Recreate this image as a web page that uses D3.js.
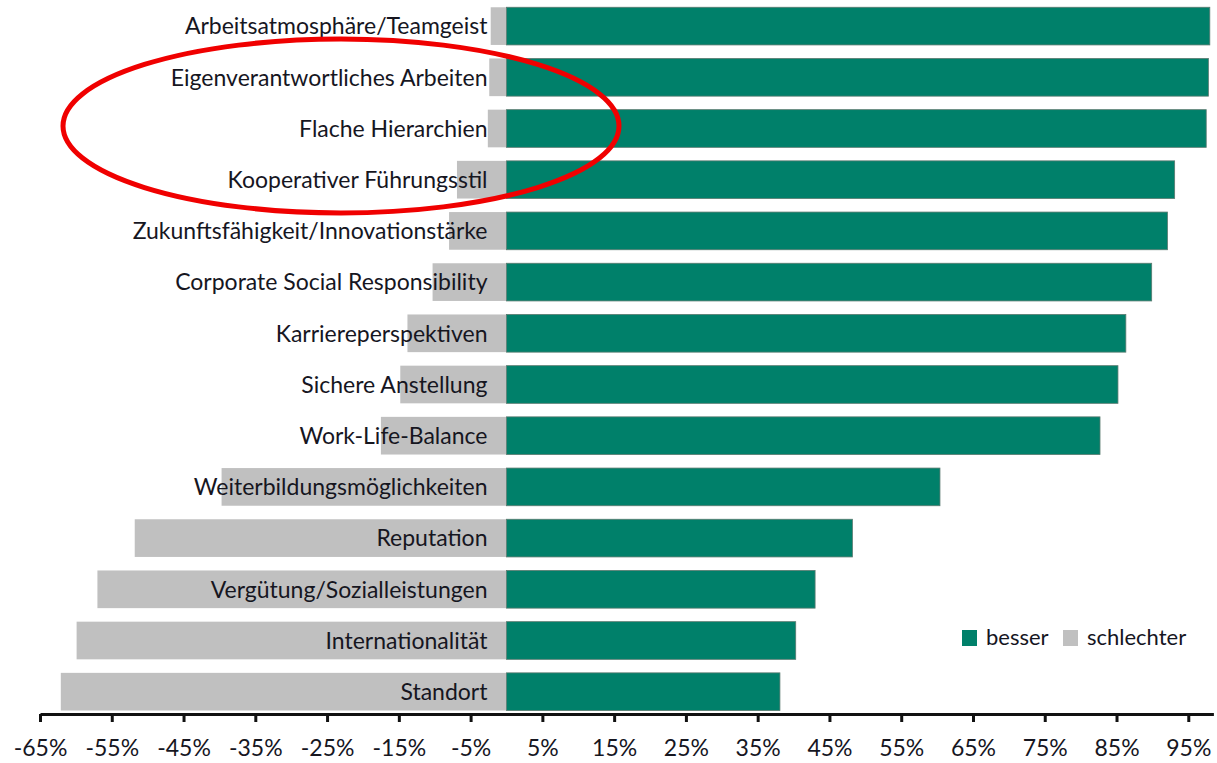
<!DOCTYPE html>
<html>
<head>
<meta charset="utf-8">
<script src="https://cdn.jsdelivr.net/npm/d3@7.9.0/dist/d3.min.js"></script>
<style>
  body { margin: 0; background: #fff; }
  svg { display: block; font-family: Lato, "Open Sans", sans-serif; }
</style>
</head>
<body>
<svg id="chart" width="1217" height="763"></svg>
<script>
// categories top to bottom
const categories = [
  'Arbeitsatmosphäre/Teamgeist',
  'Eigenverantwortliches Arbeiten',
  'Flache Hierarchien',
  'Kooperativer Führungsstil',
  'Zukunftsfähigkeit/Innovationstärke',
  'Corporate Social Responsibility',
  'Karriereperspektiven',
  'Sichere Anstellung',
  'Work-Life-Balance',
  'Weiterbildungsmöglichkeiten',
  'Reputation',
  'Vergütung/Sozialleistungen',
  'Internationalität',
  'Standort'
];
// share "besser" (%)
const besser = [98.0, 97.8, 97.5, 93.1, 92.1, 89.9, 86.3, 85.2, 82.7, 60.4, 48.2, 43.0, 40.3, 38.1];
// share "schlechter" (%, drawn to the left)
const schlechter = [2.2, 2.4, 2.6, 6.9, 8.0, 10.3, 13.8, 14.8, 17.5, 39.7, 51.8, 57.0, 59.9, 62.1];
const tickValues = d3.range(-65, 96, 10);
const legendLabels = ['besser', 'schlechter'];

const green = '#00806a';
const grey = '#c0c0c0';

const svg = d3.select('#chart');

const x = d3.scaleLinear().domain([-65, 98.5]).range([40, 1213.4]);
const y = d3.scaleBand().domain(categories).range([0.5, 717.3])
  .paddingInner(0.264).paddingOuter(0.132);

const rows = categories.map((c, i) => ({ cat: c, pos: besser[i], neg: schlechter[i] }));

// grey bars (schlechter)
svg.append('g').selectAll('rect')
  .data(rows)
  .join('rect')
  .attr('x', d => x(-d.neg))
  .attr('y', d => y(d.cat))
  .attr('width', d => x(0) - x(-d.neg))
  .attr('height', y.bandwidth())
  .attr('fill', grey);

// green bars (besser)
svg.append('g').selectAll('rect')
  .data(rows)
  .join('rect')
  .attr('x', x(0))
  .attr('y', d => y(d.cat))
  .attr('width', d => x(d.pos) - x(0))
  .attr('height', y.bandwidth())
  .attr('fill', green)
  .attr('stroke', '#5a7a70')
  .attr('stroke-width', 0.8);

// category labels, right aligned next to the zero line
svg.append('g').selectAll('text')
  .data(rows)
  .join('text')
  .attr('x', x(0) - 19)
  .attr('y', d => y(d.cat) + y.bandwidth() / 2)
  .attr('dy', '0.36em')
  .attr('text-anchor', 'end')
  .attr('font-size', 23)
  .attr('fill', '#16161f')
  .text(d => d.cat);

// x axis
const axis = d3.axisBottom(x)
  .tickValues(tickValues)
  .tickSize(8)
  .tickSizeOuter(0)
  .tickFormat(d => d + '%');

const gx = svg.append('g')
  .attr('transform', 'translate(0,714)')
  .call(axis);
gx.select('.domain').attr('stroke', '#111').attr('stroke-width', 3);
gx.selectAll('.tick line').attr('stroke', '#111').attr('stroke-width', 3);
gx.selectAll('.tick text')
  .attr('y', 26)
  .attr('font-size', 23)
  .attr('font-family', 'Lato, sans-serif')
  .attr('fill', '#16161f');

// legend
const legend = svg.append('g').attr('transform', 'translate(962,630)');
const legendX = [0, 101];
legendLabels.forEach((lab, i) => {
  const g = legend.append('g').attr('transform', `translate(${legendX[i]},0)`);
  g.append('rect').attr('width', 15).attr('height', 16).attr('fill', i === 0 ? green : grey);
  g.append('text')
    .attr('x', 24)
    .attr('y', 15)
    .attr('font-size', 22)
    .attr('fill', '#16161f')
    .text(lab);
});

// red annotation ellipse
svg.append('ellipse')
  .attr('cx', 341)
  .attr('cy', 126)
  .attr('rx', 278)
  .attr('ry', 87)
  .attr('fill', 'none')
  .attr('stroke', '#f00000')
  .attr('stroke-width', 5);
</script>
</body>
</html>
